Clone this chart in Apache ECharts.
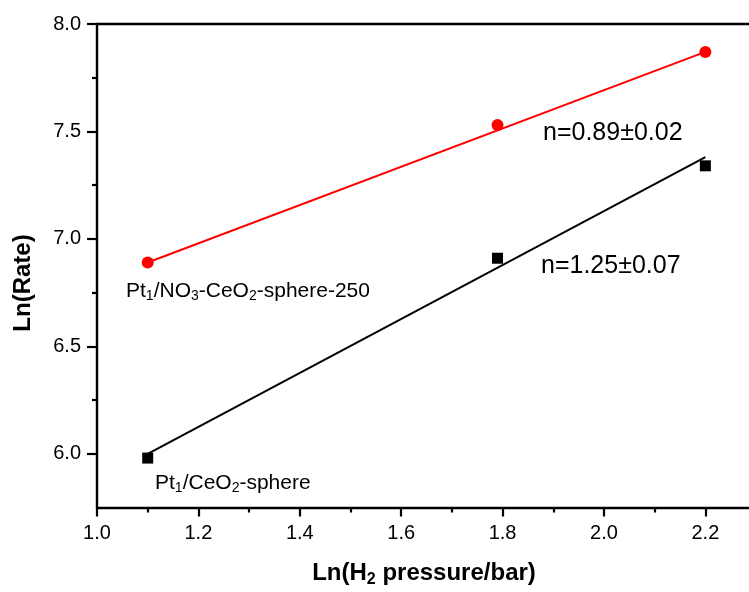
<!DOCTYPE html>
<html>
<head>
<meta charset="utf-8">
<script src="https://cdn.jsdelivr.net/npm/echarts@6/dist/echarts.min.js"></script>
<style>html,body{margin:0;padding:0;background:#fff}</style>
</head>
<body>
<div id="rate_chart" style="width:749px;height:592px"></div>
<script>
// values
const pressure = [1.10, 1.79, 2.20];
const rateNO3 = [6.89, 7.53, 7.87];
const rateSphere = [5.98, 6.91, 7.34];
// linear fits, end points
const fitX = [1.10, 2.20];
const fitNO3 = [6.89, 7.87];
const fitSphere = [6.00, 7.38];
// ticks
const xTicks = [1.0, 1.2, 1.4, 1.6, 1.8, 2.0, 2.2];
const xMinor = [1.1, 1.3, 1.5, 1.7, 1.9, 2.1];
const yTicks = [6.0, 6.5, 7.0, 7.5, 8.0];
const yMinor = [6.25, 6.75, 7.25, 7.75];

const font = 'Liberation Sans, Arial, sans-serif';
const pair = (xs, ys) => xs.map((x, i) => [x, ys[i]]);
const subRich = {
    m: { fontSize: 21, lineHeight: 24, fontFamily: font, color: '#000' },
    s: { fontSize: 14, lineHeight: 5, verticalAlign: 'bottom', fontFamily: font, color: '#000' }
};
const axisLineStyle = { color: '#000', width: 2.4 };
const tickStyle = { color: '#000', width: 2.2 };

let chart = echarts.init(document.getElementById('rate_chart'));
let option = {
    animation: false,
    grid: {
        left: 97, top: 24, width: 654, height: 483.5,
        outerBoundsMode: 'none'
    },
    xAxis: [
        {
            type: 'value', min: 1.0, max: 2.29, position: 'bottom',
            axisLine: { show: true, lineStyle: axisLineStyle },
            axisTick: { show: true, customValues: xTicks, length: 9, lineStyle: tickStyle },
            axisLabel: {
                customValues: xTicks, margin: 16, fontSize: 20, color: '#000', fontFamily: font,
                formatter: v => v.toFixed(1)
            },
            splitLine: { show: false },
            name: '{b|Ln(H}{bs|2}{b| pressure/bar)}',
            nameLocation: 'middle', nameGap: 52,
            nameTextStyle: {
                rich: {
                    b: { fontSize: 24, fontWeight: 'bold', lineHeight: 28, fontFamily: font, color: '#000' },
                    bs: { fontSize: 16, fontWeight: 'bold', lineHeight: 8, verticalAlign: 'bottom', fontFamily: font, color: '#000' }
                }
            }
        },
        {
            type: 'value', min: 1.0, max: 2.29, position: 'bottom',
            axisLine: { show: false },
            axisTick: { show: true, customValues: xMinor, length: 5, lineStyle: tickStyle },
            axisLabel: { show: false },
            splitLine: { show: false }
        },
        {
            type: 'value', min: 1.0, max: 2.29, position: 'top',
            axisLine: { show: true, lineStyle: axisLineStyle },
            axisTick: { show: false },
            axisLabel: { show: false },
            splitLine: { show: false }
        }
    ],
    yAxis: [
        {
            type: 'value', min: 5.75, max: 8.0, position: 'left',
            axisLine: { show: true, lineStyle: axisLineStyle },
            axisTick: { show: true, customValues: yTicks, length: 10, lineStyle: tickStyle },
            axisLabel: {
                customValues: yTicks, margin: 16, fontSize: 20, color: '#000', fontFamily: font,
                formatter: v => v.toFixed(1)
            },
            splitLine: { show: false }
        },
        {
            type: 'value', min: 5.75, max: 8.0, position: 'left',
            axisLine: { show: false },
            axisTick: { show: true, customValues: yMinor, length: 5, lineStyle: tickStyle },
            axisLabel: { show: false },
            splitLine: { show: false }
        }
    ],
    series: [
        {
            name: 'fit NO3', type: 'line', data: pair(fitX, fitNO3), showSymbol: false,
            lineStyle: { color: '#ff0000', width: 2 }, z: 2
        },
        {
            name: 'fit sphere', type: 'line', data: pair(fitX, fitSphere), showSymbol: false,
            lineStyle: { color: '#000', width: 2 }, z: 2
        },
        {
            name: 'Pt1/NO3-CeO2-sphere-250', type: 'scatter', data: pair(pressure, rateNO3),
            symbol: 'circle', symbolSize: 12, itemStyle: { color: '#ff0000', opacity: 1 }, z: 3
        },
        {
            name: 'Pt1/CeO2-sphere', type: 'scatter', data: pair(pressure, rateSphere),
            symbol: 'rect', symbolSize: 11, itemStyle: { color: '#000', opacity: 1 }, z: 3
        }
    ],
    graphic: [
        {
            type: 'text', x: 23, y: 283, rotation: Math.PI / 2,
            style: { text: 'Ln(Rate)', font: 'bold 24px ' + font, fill: '#000', align: 'center', verticalAlign: 'middle' }
        },
        {
            type: 'text', x: 543, y: 133,
            style: { text: 'n=0.89±0.02', font: '25px ' + font, fill: '#000', align: 'left', verticalAlign: 'middle' }
        },
        {
            type: 'text', x: 541, y: 266,
            style: { text: 'n=1.25±0.07', font: '25px ' + font, fill: '#000', align: 'left', verticalAlign: 'middle' }
        },
        {
            type: 'text', x: 126, y: 291,
            style: {
                text: '{m|Pt}{s|1}{m|/NO}{s|3}{m|-CeO}{s|2}{m|-sphere-250}',
                rich: subRich, align: 'left', verticalAlign: 'middle'
            }
        },
        {
            type: 'text', x: 155, y: 483,
            style: {
                text: '{m|Pt}{s|1}{m|/CeO}{s|2}{m|-sphere}',
                rich: subRich, align: 'left', verticalAlign: 'middle'
            }
        }
    ]
};
chart.setOption(option);
</script>
</body>
</html>
